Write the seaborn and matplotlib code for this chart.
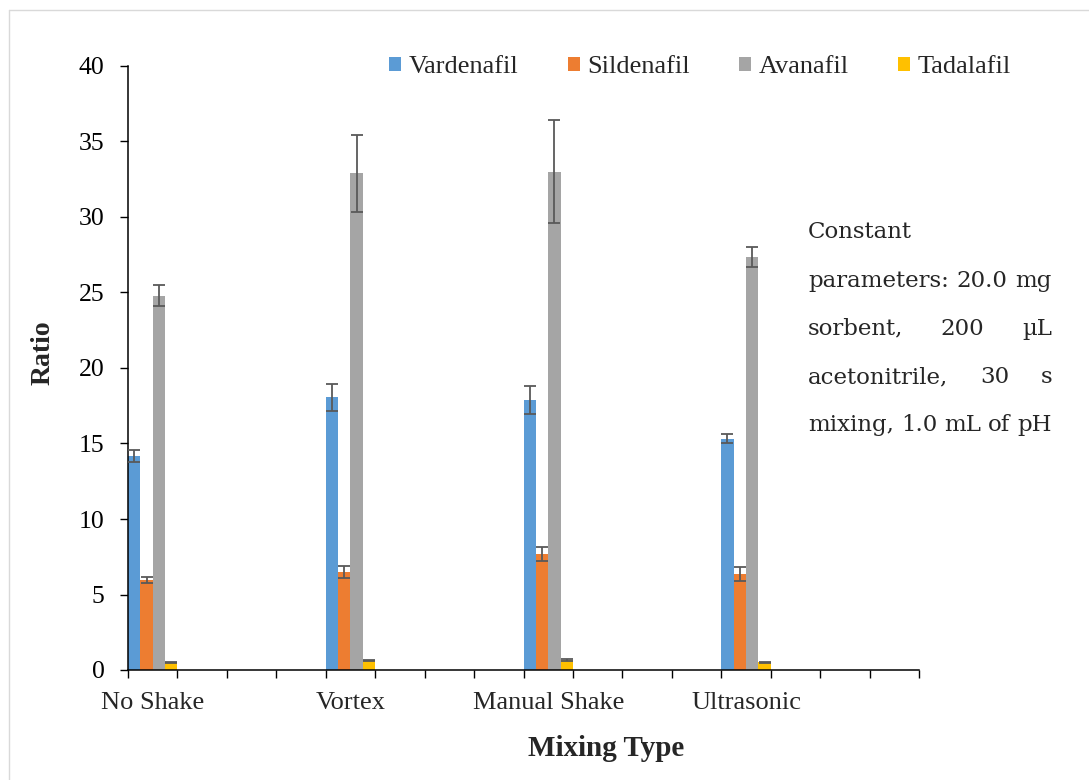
import matplotlib
matplotlib.use("Agg")
import matplotlib.pyplot as plt
from matplotlib.lines import Line2D
from matplotlib.patches import Patch
import numpy as np
import pandas as pd
import seaborn as sns

# ---- data ----
mixing_types = ["No Shake", "Vortex", "Manual Shake", "Ultrasonic"]
drugs = ["Vardenafil", "Sildenafil", "Avanafil", "Tadalafil"]
colors = ["#5B9BD5", "#ED7D31", "#A5A5A5", "#FFC000"]

vardenafil = [14.2, 18.05, 17.9, 15.3]
vardenafil_err = [0.4, 0.9, 0.93, 0.3]
sildenafil = [5.95, 6.5, 7.7, 6.35]
sildenafil_err = [0.18, 0.4, 0.45, 0.45]
avanafil = [24.8, 32.9, 33.0, 27.35]
avanafil_err = [0.7, 2.55, 3.4, 0.65]
tadalafil = [0.5, 0.62, 0.65, 0.5]
tadalafil_err = [0.05, 0.05, 0.07, 0.05]

# the original sheet had 16 category slots, only every 4th one holds data
n_slots = 16
slot_step = 4

note = "Constant\nparameters: 20.0 mg\nsorbent, 200 µL\nacetonitrile, 30 s\nmixing, 1.0 mL of pH"

# ---- build long table ----
slot_names = [mixing_types[i // slot_step] if i % slot_step == 0 else f"_slot{i}"
              for i in range(n_slots)]
values = [vardenafil, sildenafil, avanafil, tadalafil]
errors = [vardenafil_err, sildenafil_err, avanafil_err, tadalafil_err]
rows = []
for drug, vals in zip(drugs, values):
    for mt, v in zip(mixing_types, vals):
        rows.append({"slot": mt, "drug": drug, "ratio": v})
df = pd.DataFrame(rows)

sns.set_theme(style="white")
plt.rcParams["font.family"] = ["Liberation Serif", "DejaVu Serif"]

W, H = 1089, 780
fig = plt.figure(figsize=(W / 100, H / 100), dpi=100)
ax = fig.add_axes([128 / W, 1 - 670 / H, (919 - 128) / W, (670 - 66) / H])

sns.barplot(data=df, x="slot", y="ratio", hue="drug", order=slot_names,
            hue_order=drugs, palette=colors, width=1.0, gap=0, errorbar=None,
            saturation=1, linewidth=0, legend=False, ax=ax)

# error bars on top of the seaborn bars
for container, errs in zip(ax.containers, errors):
    xs = [p.get_x() + p.get_width() / 2 for p in container]
    ys = [p.get_height() for p in container]
    ax.errorbar(xs, ys, yerr=errs, fmt="none", ecolor="#595959",
                elinewidth=1.3, capsize=4.6, capthick=1.3, zorder=3)

ax.set_xlim(-0.5, n_slots - 0.5)
ax.set_ylim(0, 40)
ax.set_yticks(np.arange(0, 41, 5))
ax.tick_params(axis="y", labelsize=18.5, length=6, width=1, direction="out",
               pad=11, colors="black", left=True)
ax.set_xticks([i for i in range(n_slots) if i % slot_step == 0])
ax.set_xticklabels(mixing_types)
ax.set_xticks(np.arange(-0.5, n_slots, 1), minor=True)
ax.tick_params(axis="x", which="major", length=0, labelsize=19, pad=16)
ax.tick_params(axis="x", which="minor", length=6, width=1, direction="out",
               bottom=True, colors="black")

for side in ["top", "right"]:
    ax.spines[side].set_visible(False)
for side in ["left", "bottom"]:
    ax.spines[side].set_color("black")
    ax.spines[side].set_linewidth(1.1)

ax.set_ylabel("Ratio", fontsize=20, fontweight="bold", va="center", ha="center")
ax.yaxis.set_label_coords((43 - 128) / 791, (670 - 353) / 604)
ax.set_xlabel("Mixing Type", fontsize=21, fontweight="bold", va="center", ha="center")
ax.xaxis.set_label_coords((606 - 128) / 791, (670 - 748) / 604)

handles = [Patch(facecolor=c, edgecolor="none") for c in colors]
fig.legend(handles, drugs, ncol=4, loc="center", frameon=False,
           bbox_to_anchor=(700 / W, 1 - 67 / H), fontsize=19,
           handlelength=0.45, handleheight=0.45, handletextpad=0.3,
           columnspacing=1.85)

# justified note text on the right
fig.canvas.draw()
renderer = fig.canvas.get_renderer()
left, right = 808, 1052
baseline0, line_step = 238.5, 48.2
note_size = 16.5
note_lines = note.split("\n")
for i, line in enumerate(note_lines):
    words = line.split(" ")
    y = 1 - (baseline0 + i * line_step) / H
    if len(words) == 1:
        fig.text(left / W, y, words[0], fontsize=note_size, family="DejaVu Serif",
                 va="baseline", ha="left")
        continue
    widths = []
    for w in words:
        t = fig.text(0, 0, w, fontsize=note_size, family="DejaVu Serif")
        widths.append(t.get_window_extent(renderer).width)
        t.remove()
    gap = (right - left - sum(widths)) / (len(words) - 1)
    x = left
    for w, wd in zip(words, widths):
        fig.text(x / W, y, w, fontsize=note_size, family="DejaVu Serif",
                 va="baseline", ha="left")
        x += wd + gap

# faint chart-area border (only top and left show in the crop)
fig.add_artist(Line2D([9 / W, 1], [1 - 10 / H, 1 - 10 / H], color="#d9d9d9", lw=1))
fig.add_artist(Line2D([9 / W, 9 / W], [0, 1 - 10 / H], color="#d9d9d9", lw=1))

fig.savefig("out.png", dpi=100, facecolor="white")
